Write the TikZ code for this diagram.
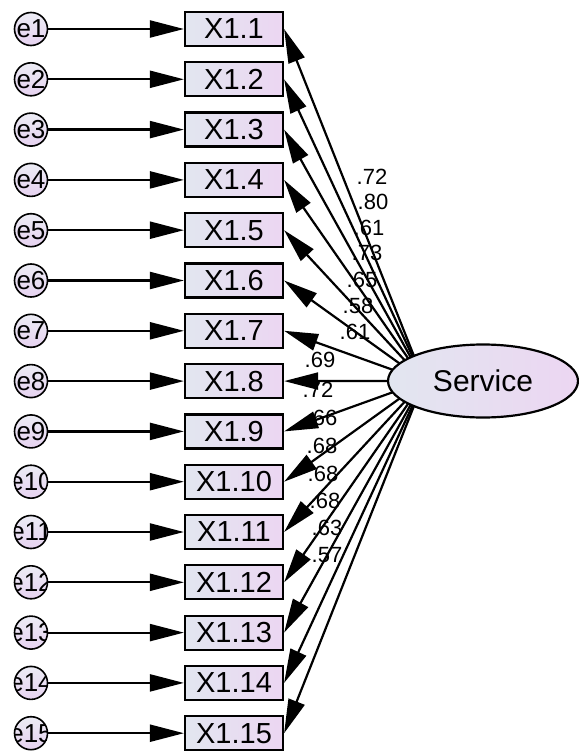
\documentclass[tikz,border=0pt]{standalone}
\usepackage{fontspec}
\setmainfont{Liberation Sans}
\usetikzlibrary{shapes.geometric,arrows.meta,backgrounds,calc}
\definecolor{boxL}{RGB}{226,230,240}
\definecolor{boxR}{RGB}{236,214,242}
\definecolor{cirT}{RGB}{236,236,244}
\definecolor{cirB}{RGB}{230,210,240}
\begin{document}
\begin{tikzpicture}[x=1pt,y=-1pt,
  obs/.style={draw=black,line width=2.2pt,left color=boxL,right color=boxR,
    minimum width=98pt,minimum height=34pt,inner sep=0pt,
    font=\fontsize{29}{29}\selectfont},
  err/.style={draw=black,line width=1.6pt,circle,top color=cirT,bottom color=cirB,
    minimum size=33pt,inner sep=0pt},
  lat/.style={draw=black,line width=2.2pt,ellipse,left color=boxL,right color=boxR,
    minimum width=190pt,minimum height=73pt,inner sep=0pt,
    font=\fontsize{30}{30}\selectfont},
  arr/.style={line width=2.2pt,-{Triangle[length=34pt,width=17pt]}},
  lbl/.style={inner sep=0pt,font=\fontsize{22}{22}\selectfont}]
\useasboundingbox (0,0) rectangle (578,751);
\node[lat] (svc) at (483,381) {Service};
\coordinate (P) at ($(svc.west)+(37,0)$);
\foreach \i in {1,...,15}{
  \pgfmathsetmacro\yy{29+(\i-1)*50.3}
  \node[obs] (x\i) at (234,\yy) {X1.\i};
  \node[err,path picture={\node[inner sep=0pt,font=\fontsize{26}{26}\selectfont] at (path picture bounding box.center) {e\i};}] (e\i) at (31,\yy) {};
  \draw[arr] (e\i) -- (x\i);
  \begin{scope}[on background layer]
    \draw[arr] (P) -- (x\i.east);
  \end{scope}
}
\node[lbl] (l1) at (372,177) {.72};
\node[lbl] (l2) at (373,202) {.80};
\node[lbl] (l3) at (369,228) {.61};
\node[lbl] (l4) at (367,253) {.73};
\node[lbl] (l5) at (362,280) {.65};
\node[lbl] (l6) at (358,306) {.58};
\node[lbl] (l7) at (355,332) {.61};
\node[lbl] (l8) at (320,360) {.69};
\node[lbl] (l9) at (318,390) {.72};
\node[lbl] (l10) at (322,418) {.66};
\node[lbl] (l11) at (322,446) {.68};
\node[lbl] (l12) at (323,474) {.68};
\node[lbl] (l13) at (325,501) {.68};
\node[lbl] (l14) at (327,528) {.63};
\node[lbl] (l15) at (327,555) {.57};
\end{tikzpicture}
\end{document}
